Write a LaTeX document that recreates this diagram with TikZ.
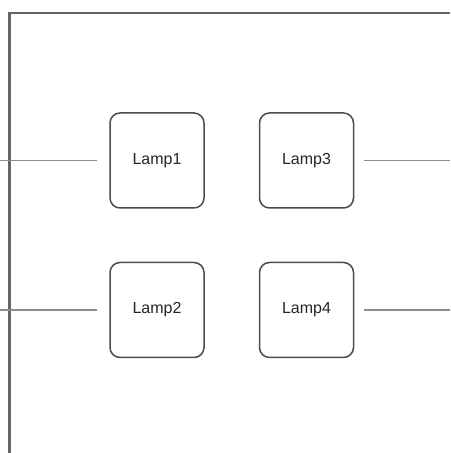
\documentclass[tikz,border=0pt]{standalone}
\usepackage{fontspec}
\setmainfont{Liberation Sans}
\usetikzlibrary{positioning}
\tikzset{
  lampbox/.style={draw=black!70,line width=.75pt,rounded corners=5pt,fill=white,
    minimum width=47pt,minimum height=47.5pt,inner sep=0pt,
    font=\fontsize{8}{9}\selectfont,text=black!85},
  wire/.style={draw=black!45,line width=.75pt},
  frame/.style={draw=black!60,line width=1.1pt}
}
\begin{document}
\begin{tikzpicture}[x=.5pt,y=.5pt]
\useasboundingbox(0,0)rectangle(450,453);
%frame
\draw[frame](9.5,0)--(9.5,440)--(450,440);
%lamps
\node[lampbox](lamp1)at(157,292.5){Lamp1};
\node[lampbox](lamp3)at(306.5,292.5){Lamp3};
\node[lampbox](lamp2)at(157,143){Lamp2};
\node[lampbox](lamp4)at(306.5,143){Lamp4};
%wires
\coordinate(in1)at(0,292.5);
\coordinate(in2)at(0,143);
\coordinate(out3)at(450,292.5);
\coordinate(out4)at(450,143);
\draw[wire,shorten >=6pt](in1)--(lamp1);
\draw[wire,shorten >=6pt](in2)--(lamp2);
\draw[wire,shorten >=5pt](out3)--(lamp3);
\draw[wire,shorten >=5pt](out4)--(lamp4);
\end{tikzpicture}
\end{document}
